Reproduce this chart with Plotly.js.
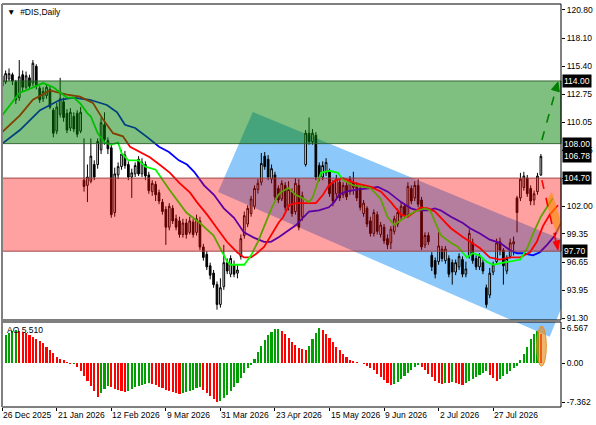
<!DOCTYPE html>
<html><head><meta charset="utf-8">
<script src="https://cdn.plot.ly/plotly-3.0.1.min.js"></script>
<style>html,body{margin:0;padding:0;background:#fff;}#chart{width:596px;height:425px;}</style>
</head><body><div id="chart"></div>
<script>
// ---------- DATA ----------
const dateLabels = ['26 Dec 2025','21 Jan 2026','12 Feb 2026','9 Mar 2026','31 Mar 2026','23 Apr 2026','15 May 2026','9 Jun 2026','2 Jul 2026','27 Jul 2026'];
const dateLabelBars = [0,16,32,48,64,80,96,112,128,144];

const openP = [114.5,113.9,114.2,114.6,113.9,112.4,114.6,113.4,114.3,113.8,115.4,113.3,112.3,112.6,113.2,111.2,109.2,110.8,112.0,110.9,109.5,110.6,110.9,109.2,104.5,104.0,104.4,106.0,106.0,107.4,109.8,108.3,107.6,101.4,105.0,105.8,106.9,106.0,104.8,105.1,106.5,105.1,106.0,105.0,103.4,104.1,103.3,102.4,101.7,100.0,101.8,100.8,100.6,99.3,100.4,99.5,100.5,99.5,100.6,98.1,97.4,96.3,95.6,94.5,92.6,94.3,96.6,95.5,96.4,95.6,97.2,99.2,100.3,101.3,102.0,103.6,104.3,106.8,106.5,104.6,105.0,103.7,102.7,104.0,102.0,103.4,101.5,104.0,101.0,106.0,109.0,108.2,108.8,105.9,104.8,105.2,105.3,104.2,103.2,104.3,103.1,104.0,103.4,104.3,104.0,103.7,101.3,101.8,100.6,99.4,101.2,99.3,100.0,98.9,98.5,99.6,100.3,101.0,102.0,101.2,103.7,102.8,104.0,102.6,98.3,99.2,97.3,96.8,96.7,97.9,96.8,97.0,96.6,95.7,96.2,96.9,95.5,97.3,98.5,97.0,96.2,96.6,94.2,93.5,95.7,96.7,98.6,97.8,95.8,97.2,98.4,102.8,102.8,103.8,104.7,103.7,102.6,103.4,105.0];
const highP = [114.8,115.0,115.2,114.8,114.1,116.0,115.0,114.9,114.6,116.0,115.6,113.5,113.4,113.7,113.5,111.4,111.9,114.3,112.4,111.3,111.4,111.0,111.2,111.5,108.5,106.0,108.5,106.4,108.5,110.5,111.0,108.6,108.0,105.7,106.2,107.4,107.3,106.3,105.6,106.2,106.8,106.6,106.3,105.3,104.5,104.4,103.6,102.7,102.0,102.3,102.1,101.2,101.0,100.8,100.8,101.0,100.8,101.2,101.0,98.4,97.7,96.6,95.9,94.8,95.1,98.3,97.0,97.3,96.8,96.4,99.3,101.5,102.1,103.0,104.0,104.6,107.1,107.2,106.9,106.0,105.3,104.0,104.5,104.3,104.4,103.7,104.7,104.6,103.4,109.3,110.5,109.4,109.1,106.2,106.3,106.6,105.6,104.5,105.0,104.6,104.3,104.3,104.9,105.3,104.3,104.0,102.6,102.0,101.0,101.7,101.5,100.5,100.3,99.3,100.1,101.1,101.8,102.4,102.3,104.3,104.0,104.4,104.6,102.9,99.5,99.5,97.6,97.1,99.5,98.2,98.2,97.3,96.9,96.9,97.5,97.2,96.7,99.8,98.9,97.3,97.5,96.9,94.5,96.1,96.7,98.9,99.0,98.0,97.3,98.9,99.1,103.0,105.2,105.3,105.0,104.0,103.5,105.2,107.0];
const lowP = [113.2,113.7,114.0,113.6,111.8,112.1,113.0,113.2,113.2,113.5,113.2,111.9,112.0,112.3,111.3,108.6,108.9,110.5,110.1,109.0,109.2,109.1,108.6,109.0,103.4,102.4,104.2,104.5,105.6,107.0,107.9,107.0,100.9,101.0,104.6,105.5,105.6,104.5,102.8,104.8,104.9,104.8,104.5,103.2,103.0,102.5,102.2,101.2,98.3,99.7,100.3,99.7,99.0,99.0,98.9,99.3,99.0,99.2,97.8,96.8,95.9,95.0,94.2,92.1,92.3,94.0,95.5,95.2,95.2,95.1,96.9,98.9,100.0,101.0,101.7,103.2,104.0,105.5,104.5,104.2,102.6,102.3,102.5,101.6,101.6,101.0,101.2,99.7,100.6,105.8,107.9,107.9,104.5,104.4,104.5,104.9,102.9,102.0,102.8,102.5,102.8,102.6,103.1,103.1,102.5,101.6,101.0,100.0,99.1,99.1,99.3,99.0,98.4,97.9,97.9,99.3,100.0,100.7,100.8,100.9,102.2,102.5,101.9,97.8,98.0,98.3,95.8,95.1,96.4,96.7,96.5,95.2,94.5,95.4,95.9,95.2,95.2,97.0,96.5,95.9,95.9,95.5,92.3,93.2,95.4,96.4,97.3,94.5,95.5,97.0,97.3,99.5,102.5,103.5,102.9,102.1,102.1,103.1,104.9];
const closeP = [113.5,114.7,114.7,114.0,112.2,114.4,113.4,114.5,113.5,115.7,113.5,112.2,113.0,113.4,111.5,109.0,111.5,112.3,110.5,109.3,111.0,109.4,108.9,111.0,103.9,104.8,106.8,104.8,108.2,110.0,108.4,107.5,101.2,105.1,105.8,107.0,105.9,104.8,105.2,105.9,105.1,106.2,104.9,103.5,104.2,103.1,102.5,101.5,100.0,102.0,100.6,100.0,99.3,100.4,99.3,100.6,99.3,100.8,98.1,97.1,96.2,95.4,94.5,92.6,94.2,96.6,95.8,97.0,95.5,95.9,98.9,101.1,101.8,102.7,103.7,104.2,106.1,105.8,104.8,105.6,102.9,102.6,104.2,101.9,103.6,101.3,104.2,100.0,103.0,109.0,108.2,109.0,104.8,104.8,105.9,106.2,103.2,102.5,104.6,102.8,104.0,102.9,104.6,103.8,102.8,101.9,102.3,100.3,99.4,101.4,99.6,100.2,98.7,98.3,99.8,100.8,101.4,102.0,101.1,103.9,102.5,104.0,102.2,98.1,99.2,98.6,96.2,95.5,98.2,97.0,97.9,95.5,95.7,96.6,97.2,95.5,96.0,99.4,96.8,96.2,97.2,95.8,92.6,95.6,96.4,98.5,97.8,96.3,97.0,98.5,98.6,101.4,104.6,104.9,103.2,102.5,103.2,104.9,106.78];

// Alligator lines (bar index, price)
const lipsX = [0,3,5,7,10,12,15,17,19,21,23,25,26,28,30,32,34,35,37,40,42,45,49,54,58,62,64,66,67,71,73,75,77,79,81,82,84,86,88,90,91,92.5,93.5,96,98.5,100,103,106,108,111,113,115,118,121,124,125.5,127,128.7,131.6,133.7,135,136.3,138,140,142,144,147,149,152,154,156,158,160,161.5];
const lipsY = [110.7,112.0,112.85,113.1,113.5,113.8,113.4,112.9,112.4,112.4,111.8,110.9,110.6,109.0,108.1,107.9,108.1,107.1,106.4,106.4,105.8,105.5,103.6,101.4,100.4,99.2,98.0,96.7,96.4,96.4,97.3,98.6,100.2,101.8,103.1,103.4,103.75,103.1,102.8,102.4,102.8,104.3,105.2,105.4,105.2,104.5,104.0,103.85,103.75,102.7,101.0,100.2,100.9,101.5,101.8,101.6,100.5,99.2,98.5,98.1,97.6,97.1,97.5,97.3,96.7,96.4,96.6,96.7,96.9,98.0,99.6,101.0,102.0,102.8];
const teethX = [0,5.2,9,14,19,22.8,26.6,29.6,32.5,35.4,37.5,40.4,43.3,46.3,49.2,52.1,55.1,57.1,60.1,63,65.9,68.9,70.9,73,74.7,76.8,78.8,81.2,82.3,84.1,86.2,89.1,92,94.1,95.8,97.9,99.9,103.8,108.2,111.1,114,117,119,121.1,122.8,124.9,126.9,128.7,131.6,135.1,137.2,140.1,143,146,148.9,151.9,154.8,156.8,158.6,160.6,163];
const teethY = [109.1,110.7,112.2,113.1,112.7,112.5,111.9,110.3,109.0,108.7,107.7,107.2,106.7,105.95,105.2,104.2,103.3,102.4,101.2,99.9,98.6,97.6,97.1,97.1,97.5,98.1,99.2,100.5,100.9,102.1,102.3,102.3,102.3,103.1,104.0,104.5,104.7,104.2,103.85,103.4,102.4,101.2,101.0,101.5,101.9,101.8,101.5,100.9,99.9,99.05,98.6,98.0,97.1,96.9,97.1,97.1,97.6,98.6,100.1,101.2,102.1];
const jawX = [0,5.2,11.1,17,20.8,25.7,30.7,33.7,36,39,43,46,48.9,51.8,54.2,56.3,59.2,62.1,65,68,70.9,73.8,76.8,78.8,81.2,83.2,86.2,88.2,90,92.9,95.8,97.4,98.8,100.8,103.8,108.2,110.2,113.1,117,119.9,121.9,124.9,126.9,128.7,131.6,135.1,137.2,140.1,143,146,148.9,151,152.7,155.7,157.7,159.8,162.1,163.9,166];
const jawY = [108.0,109.3,111.2,112.2,112.4,112.2,111.7,111.0,109.8,109.5,108.5,107.7,107.2,106.4,106.0,105.3,104.0,103.1,101.8,100.9,99.5,99.0,98.6,98.6,99.05,99.5,100.2,100.9,101.5,101.6,101.9,102.4,103.1,103.4,103.6,103.75,103.85,103.4,102.4,101.8,101.6,101.6,101.8,101.6,101.0,100.4,99.9,99.4,98.8,98.5,97.8,97.5,97.5,97.3,97.6,98.3,99.2,100.4,101.6];

// Awesome Oscillator
const aoValues = [4.9,5.3,5.7,6.0,6.3, 6.1,5.9,5.6,5.3,5.0,4.6,4.2,3.7,3.1,2.5,1.8, 1.2,0.8,0.5,0.2, -0.15,-0.1,
 -0.7,-1.5,-2.4,-3.3,-4.3,-5.3,-6.4, -5.6,-4.9,-4.3, -4.6,-4.9,-5.1,-5.3,-5.5, -5.2,-4.9,-4.6,-4.3,-4.1,-3.9,-3.7,
 -3.9,-4.2,-4.5,-4.8,-5.1,-5.3,-5.5,-5.7,-5.8, -5.6,-5.4,-5.2,-5.0,-4.7,-4.5, -5.0,-5.6,-6.2,-6.8,-7.362,
 -7.1,-6.6,-6.0,-5.3,-4.5,-3.7,-2.8,-1.9,-1.0,-0.3, 0.8,2.0,3.2,4.3,5.2,5.9,6.4,6.45, 6.0,5.4,4.7,4.0,3.4,2.9,2.6,2.4,
 3.3,4.6,5.7,6.567, 6.2,5.5,4.7,3.9,3.1,2.4,1.7,1.1,0.6,0.3,0.1, -0.05,-0.2,-0.5, -0.9,-1.4,-2.0,-2.6,-3.2,-3.7,-4.1,
 -3.9,-3.5,-3.0,-2.5,-1.9,-1.3,-0.8,-0.3, -0.7,-1.3,-2.0,-2.7,-3.3,-3.7,-3.9, -3.7,-3.8,-3.6,-3.8,-4.0,-4.1,
 -3.8,-3.4,-3.0,-2.6,-2.2,-1.9,-1.6, -2.2,-2.9,-3.4, -3.0,-2.5,-2.0,-1.5,-1.0,-0.5, 0.5,1.7,3.1,4.5,5.5,6.0,5.51];

const priceTicks = [120.80,118.10,115.40,112.75,110.05,107.35,104.70,102.00,99.35,96.65,93.95,91.30];
const aoTicks = [6.567,0.00,-7.362];
const aoTickText = ['6.567','0.00','-7.362'];
const levelLabels = [114.00,108.00,106.78,104.70,97.70];
const greenZone = [108.00,114.00];
const redZone = [97.70,104.70];
// drawing objects (bar index, price)
const channelPts = [[73.5,111.03],[170.9,97.9],[160.6,89.5],[63.3,103.37]];
const bullArrow = {from:[158.3,108.35], base:[162.3,113.07], tip:[163.0,113.9], c1:[163.4,112.96], c2:[161.1,113.18]};
const bearArrow = {from:[158.3,104.5], base:[162.4,98.65], tip:[163.0,97.81], c1:[163.5,98.74], c2:[161.6,98.57]};
const orangeBand = [[159.5,102.4],[161.2,103.4],[164.2,100.2],[162.7,99.25]];
const aoMarker = {x0:156.8, x1:159.6, y0:-0.6, y1:7.0};
const aoLabel = 'AO 5.510';
const chartTitle = '#DIS,Daily';

// ---------- BUILD ----------
const FONT = 'Liberation Sans, Arial, sans-serif';
const N = closeP.length;
const idx = Array.from({length:N},(_,i)=>i);
const aoColors = aoValues.map((v,i)=> (i===0 || v>aoValues[i-1]) ? '#00a000' : '#ff0000');
const pathOf = pts => 'M' + pts.map(p=>p[0]+','+p[1]).join(' L') + ' Z';

const yMain = [91.11,121.37], yAO = [-8.3,7.74];
const mainTopPx = 4, mainBotPx = 320, aoTopPx = 322, aoBotPx = 407;
const priceToAO = p => {
  const px = mainTopPx + (yMain[1]-p)/(yMain[1]-yMain[0])*(mainBotPx-mainTopPx);
  return yAO[1] - (px-aoTopPx)/(aoBotPx-aoTopPx)*(yAO[1]-yAO[0]);
};
// tick labels hidden behind a level box are left blank
const tickText = priceTicks.map(v => levelLabels.some(l => Math.abs(l-v) < 0.01) ? '' : v.toFixed(2));

const traces = [
  {type:'scatter',mode:'lines',x:jawX,y:jawY,line:{color:'#0000ff',width:1.8},xaxis:'x',yaxis:'y',hoverinfo:'skip'},
  {type:'scatter',mode:'lines',x:teethX,y:teethY,line:{color:'#ff0000',width:1.8},xaxis:'x',yaxis:'y',hoverinfo:'skip'},
  {type:'scatter',mode:'lines',x:lipsX,y:lipsY,line:{color:'#00ff00',width:1.8},xaxis:'x',yaxis:'y',hoverinfo:'skip'},
  {type:'candlestick',x:idx,open:openP,high:highP,low:lowP,close:closeP,xaxis:'x',yaxis:'y',
   increasing:{line:{color:'#000000',width:1},fillcolor:'#ffffff'},
   decreasing:{line:{color:'#000000',width:1},fillcolor:'#000000'},whiskerwidth:0,hoverinfo:'skip'},
  {type:'bar',x:idx,y:aoValues,xaxis:'x',yaxis:'y2',marker:{color:aoColors,line:{width:0}},width:0.62,hoverinfo:'skip'}
];

const shapes = [
  {type:'path',xref:'x',yref:'y',path:pathOf(channelPts),fillcolor:'rgb(140,200,250)',line:{width:0},layer:'below'},
  {type:'path',xref:'x',yref:'y2',path:pathOf(channelPts.map(p=>[p[0],priceToAO(p[1])])),fillcolor:'rgb(140,200,250)',line:{width:0},layer:'above'},
  {type:'rect',xref:'paper',yref:'y',x0:0,x1:1,y0:greenZone[0],y1:greenZone[1],fillcolor:'rgba(0,128,0,0.5)',line:{color:'rgba(40,90,40,0.9)',width:1},layer:'above'},
  {type:'rect',xref:'paper',yref:'y',x0:0,x1:1,y0:redZone[0],y1:redZone[1],fillcolor:'rgba(255,0,0,0.37)',line:{color:'rgba(150,60,60,0.9)',width:1},layer:'above'},
  {type:'path',xref:'x',yref:'y',path:pathOf(orangeBand),fillcolor:'rgba(255,140,0,0.6)',line:{width:0},layer:'above'},
  {type:'line',xref:'x',yref:'y',x0:bullArrow.from[0],y0:bullArrow.from[1],x1:bullArrow.base[0],y1:bullArrow.base[1],line:{color:'#008000',width:1.6,dash:'dash'},layer:'above'},
  {type:'path',xref:'x',yref:'y',path:pathOf([bullArrow.tip,bullArrow.c1,bullArrow.c2]),fillcolor:'#008000',line:{color:'#008000',width:1},layer:'above'},
  {type:'line',xref:'x',yref:'y',x0:bearArrow.from[0],y0:bearArrow.from[1],x1:bearArrow.base[0],y1:bearArrow.base[1],line:{color:'#ff0000',width:1.6,dash:'dash'},layer:'above'},
  {type:'path',xref:'x',yref:'y',path:pathOf([bearArrow.tip,bearArrow.c1,bearArrow.c2]),fillcolor:'#ff0000',line:{color:'#ff0000',width:1},layer:'above'},
  {type:'circle',xref:'x',yref:'y2',x0:aoMarker.x0,x1:aoMarker.x1,y0:aoMarker.y0,y1:aoMarker.y1,fillcolor:'rgba(230,140,30,0.65)',line:{color:'rgba(230,140,30,0.9)',width:1},layer:'above'},
  {type:'rect',xref:'paper',yref:'paper',x0:0,x1:1,y0:0.2159,y1:1,line:{color:'#000',width:1},fillcolor:'rgba(0,0,0,0)',layer:'above'},
  {type:'rect',xref:'paper',yref:'paper',x0:0,x1:1,y0:0,y1:0.2109,line:{color:'#000',width:1},fillcolor:'rgba(0,0,0,0)',layer:'above'},
  {type:'line',xref:'paper',yref:'paper',x0:0,x1:1,y0:0.2134,y1:0.2134,line:{color:'#808080',width:2},layer:'above'},
  {type:'line',xref:'paper',yref:'paper',x0:0,x1:0,y0:0,y1:1,line:{color:'#808080',width:2},layer:'above'}
];

const annotations = [];
dateLabels.forEach((t,k)=>annotations.push({xref:'x',yref:'paper',x:dateLabelBars[k],y:0,text:t,showarrow:false,xanchor:'left',yanchor:'top',yshift:-1,xshift:-1,font:{size:8.5,color:'#000',family:FONT}}));
levelLabels.forEach(v=>annotations.push({xref:'paper',yref:'y',x:1,y:v,text:v.toFixed(2),showarrow:false,xanchor:'left',yanchor:'middle',xshift:1,bgcolor:'#000000',borderpad:1,font:{size:8.5,color:'#ffffff',family:FONT}}));
annotations.push({xref:'paper',yref:'paper',x:0,y:1,text:'\u25BC  '+chartTitle,showarrow:false,xanchor:'left',yanchor:'top',xshift:3,yshift:-1,font:{size:8.5,color:'#000',family:FONT}});
annotations.push({xref:'paper',yref:'paper',x:0,y:0.2109,text:aoLabel,showarrow:false,xanchor:'left',yanchor:'top',xshift:3,yshift:-1,font:{size:8.5,color:'#000',family:FONT}});

const layout = {
  width:596,height:425,margin:{l:2,r:35,t:4,b:18},paper_bgcolor:'#fff',plot_bgcolor:'#fff',
  showlegend:false,dragmode:false,bargap:0,
  font:{family:FONT,size:8.5,color:'#000'},
  xaxis:{range:[-0.06,163.9],anchor:'y2',showgrid:false,zeroline:false,rangeslider:{visible:false},
    tickvals:dateLabelBars,showticklabels:false,ticks:'outside',ticklen:3,tickcolor:'#000',showline:false},
  yaxis:{domain:[0.2159,1],range:yMain,side:'right',showgrid:false,zeroline:false,
    tickvals:priceTicks,ticktext:tickText,ticks:'outside',ticklen:3,tickcolor:'#000',
    tickfont:{size:8.5,color:'#000',family:FONT},showline:false},
  yaxis2:{domain:[0,0.2109],range:yAO,side:'right',showgrid:false,zeroline:false,
    tickvals:aoTicks,ticktext:aoTickText,ticks:'outside',ticklen:3,tickcolor:'#000',tickfont:{size:8.5,color:'#000',family:FONT},showline:false},
  shapes:shapes,annotations:annotations
};
Plotly.newPlot('chart',traces,layout,{staticPlot:true,displayModeBar:false});
</script></body></html>
